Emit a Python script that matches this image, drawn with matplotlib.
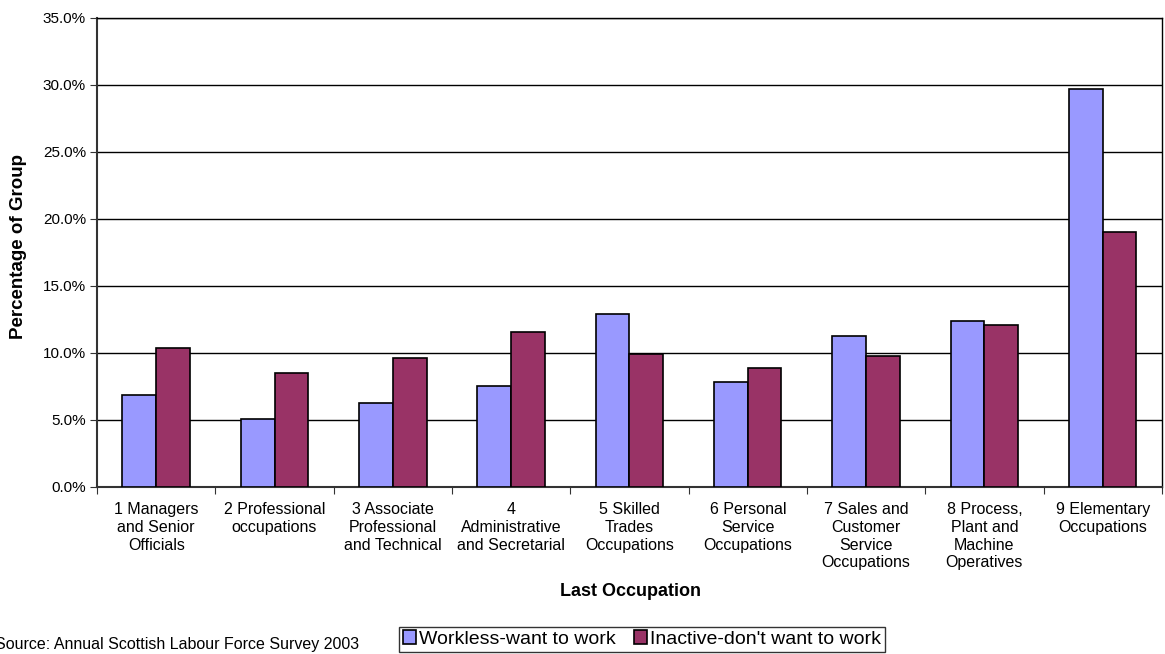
import numpy as np
import matplotlib
matplotlib.use("Agg")
import matplotlib.pyplot as plt
from matplotlib.ticker import FixedLocator, PercentFormatter

plt.rcParams["font.family"] = ["Liberation Sans", "DejaVu Sans"]

# data (percent of group)
categories = [
    "1 Managers\nand Senior\nOfficials",
    "2 Professional\noccupations",
    "3 Associate\nProfessional\nand Technical",
    "4\nAdministrative\nand Secretarial",
    "5 Skilled\nTrades\nOccupations",
    "6 Personal\nService\nOccupations",
    "7 Sales and\nCustomer\nService\nOccupations",
    "8 Process,\nPlant and\nMachine\nOperatives",
    "9 Elementary\nOccupations",
]
workless = [6.9, 5.05, 6.3, 7.5, 12.9, 7.8, 11.3, 12.4, 29.7]
inactive = [10.4, 8.5, 9.65, 11.6, 9.9, 8.85, 9.8, 12.1, 19.0]

fig = plt.figure(figsize=(11.65, 6.54), dpi=100)
ax = fig.add_axes([0.0833, 0.2554, 0.9140, 0.7171])

x = np.arange(len(categories))
w = 0.285
ax.bar(x - w / 2, workless, w, color="#9999FF", edgecolor="black", linewidth=1.2,
       label="Workless-want to work", zorder=3)
ax.bar(x + w / 2, inactive, w, color="#993366", edgecolor="black", linewidth=1.2,
       label="Inactive-don't want to work", zorder=3)

ax.set_xlim(-0.5, len(categories) - 0.5)
ax.set_ylim(0, 35)
ax.set_yticks(np.arange(0, 36, 5))
ax.yaxis.set_major_formatter(PercentFormatter(decimals=1))
ax.grid(axis="y", color="black", linewidth=1, zorder=0)

# category boundaries carry the ticks, labels sit at centres
ax.xaxis.set_major_locator(FixedLocator(np.arange(-0.5, len(categories), 1.0)))
ax.set_xticklabels([])
ax.xaxis.set_minor_locator(FixedLocator(x))
ax.set_xticklabels(categories, minor=True, fontsize=11.5, linespacing=1.22, va="top")
ax.tick_params(axis="x", which="minor", length=0, pad=11)
ax.tick_params(axis="x", which="major", length=5, direction="out", color="#333333")
ax.tick_params(axis="y", length=5, direction="out", labelsize=11, pad=3, color="#333333")

for s in ["left", "bottom"]:
    ax.spines[s].set_color("#333333")
    ax.spines[s].set_linewidth(1.5)
for s in ["top", "right"]:
    ax.spines[s].set_color("black")
    ax.spines[s].set_linewidth(1)

ax.set_ylabel("Percentage of Group", fontsize=13.5, fontweight="bold")
ax.yaxis.set_label_coords(-0.066, 0.513)
fig.text(0.5415, 0.095, "Last Occupation", fontsize=13, fontweight="bold",
         ha="center", va="center")

leg = ax.legend(loc="center", bbox_to_anchor=(0.551, 0.0225), bbox_transform=fig.transFigure,
                ncol=2, fontsize=14, frameon=True, fancybox=False, handlelength=0.7,
                handleheight=0.7, handletextpad=0.15, columnspacing=0.9,
                borderpad=0.2, borderaxespad=0)
leg.get_frame().set_edgecolor("black")
leg.get_frame().set_linewidth(1)

fig.text(-0.004, 0.014, "Source: Annual Scottish Labour Force Survey 2003", fontsize=11.5,
         ha="left", va="center")

fig.savefig("out.png", dpi=100)
